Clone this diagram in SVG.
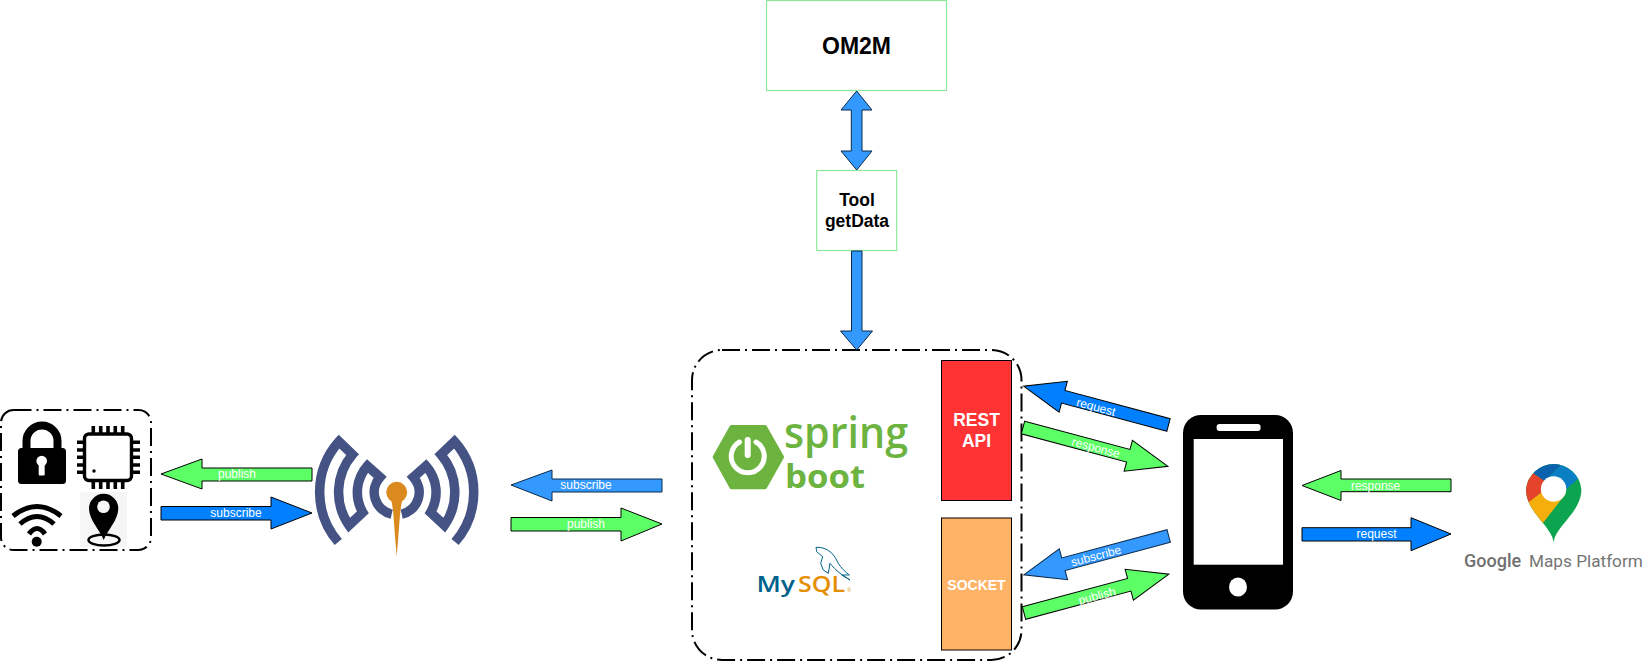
<svg xmlns="http://www.w3.org/2000/svg" width="1649" height="662" viewBox="0 0 1649 662">
<style>
text{font-family:"Liberation Sans",Arial,sans-serif;text-anchor:middle}
.g{fill:#5cff66;stroke:#000;stroke-width:1}
.b{fill:#007fff;stroke:#000;stroke-width:1}
.l{fill:#3399ff;stroke:#0a2a4a;stroke-width:1}
.lab{font-size:12px;fill:#fff;dominant-baseline:central}
.dd{fill:none;stroke:#000;stroke-width:2;stroke-dasharray:18 5 2 5}
.box{fill:#fff;stroke:#8fe89a;stroke-width:1.2}
.bt{font-weight:bold;fill:#000}
.wt{font-weight:bold;fill:#fff}
.ant{fill:none;stroke:#445383;stroke-width:9.5;stroke-miterlimit:10}
.logo{font-family:"Open Sans",sans-serif;text-anchor:start}
.gm{font-family:Roboto,sans-serif;text-anchor:start}
</style>
<defs>
<path id="arr" d="M0,-6.5H109V-16L150,0L109,16V6.5H0Z"/>
<path id="antHalf" class="ant" d="M338.3,542A76,76 0 0 1 339,441.5L352.5,454.5A58,58 0 0 0 349,525.3L362.8,512.4A39.5,39.5 0 0 1 367.4,466L380,477.2A22.5,22.5 0 0 0 391.7,514.2"/>
<clipPath id="pinClip"><path d="M1553.6,542C1551.5,526 1526,512 1526,489.5A27.8,27.8 0 0 1 1581.4,489.5C1581.4,512 1555.7,526 1553.6,542Z"/></clipPath>
</defs>
<rect width="1649" height="662" fill="#fff"/>

<g id="devices">
<rect class="dd" x="1" y="410" width="150" height="140" rx="12.5"/>
<g id="lock">
<rect x="18" y="448" width="48" height="36" rx="3.5"/>
<path d="M26.5,449V441A15.5,15.5 0 0 1 57.5,441V449" fill="none" stroke="#000" stroke-width="8"/>
<circle cx="41.7" cy="461" r="5.3" fill="#fff"/>
<rect x="38.7" y="461" width="6" height="14.5" rx="1" fill="#fff"/>
</g>
<g id="chip">
<path d="M93.3,426V489M100.7,426V489M108,426V489M115.3,426V489M122.7,426V489M77,442.3H140M77,450H140M77,457.3H140M77,465H140M77,472.3H140" stroke="#000" stroke-width="3.6" fill="none"/>
<rect x="84.5" y="434" width="47" height="46.5" rx="4.5" fill="#fff" stroke="#000" stroke-width="3.4"/>
<circle cx="94" cy="471" r="1.7"/>
</g>
<g id="wifi">
<path d="M13,516Q37,497 61,516M20,524Q37,509 54,524M29,534Q37,523 45,534" fill="none" stroke="#000" stroke-width="5"/>
<circle cx="36.7" cy="541.7" r="5"/>
</g>
<g id="location">
<rect x="80" y="492" width="47" height="55" fill="#f6f6f6"/>
<ellipse cx="104" cy="540" rx="15.5" ry="5.5" fill="none" stroke="#000" stroke-width="2.5"/>
<path d="M103.7,540C100,530 89,520 89,508.5A14.6,14.6 0 0 1 118.3,508.5C118.3,520 107.5,530 103.7,540Z"/>
<circle cx="103.5" cy="506.7" r="6.3" fill="#f6f6f6"/>
</g>
</g>

<g id="broker">
<use href="#antHalf"/>
<use href="#antHalf" transform="matrix(-1 0 0 1 793.4 0)"/>
<path d="M390.5,498C393,505 393.5,515 395.3,540L396.7,556L398.1,540C400,515 400.5,505 403,498Z" fill="#db8a20"/>
<circle cx="396.7" cy="492.3" r="10.5" fill="#db8a20"/>
</g>

<g id="om2m">
<rect class="box" x="766.5" y="0.5" width="180" height="90"/>
<text class="bt" x="856.5" y="53.5" font-size="23">OM2M</text>
</g>
<g id="tool">
<rect class="box" x="816.7" y="170.5" width="80" height="80"/>
<text class="bt" x="857" y="205.7" font-size="17.5">Tool</text>
<text class="bt" x="857" y="226.7" font-size="17.5">getData</text>
</g>

<g id="server">
<rect class="dd" x="692" y="350" width="329.5" height="310" rx="30"/>
<g id="spring-logo">
<path d="M714.7,457L731.5,427H765L782,457L765,487.3H731.5Z" fill="#6db33f" stroke="#6db33f" stroke-width="4" stroke-linejoin="round"/>
<path d="M739.5,442A16.5,16.5 0 1 0 756,442" fill="none" stroke="#fff" stroke-width="5" stroke-linecap="round"/>
<path d="M747.7,440V455" stroke="#fff" stroke-width="6" stroke-linecap="round"/>
<text class="logo" x="784" y="448" font-size="44" font-weight="600" fill="#6db33f" textLength="124" lengthAdjust="spacingAndGlyphs">spring</text>
<text class="logo" x="785" y="488" font-size="33" font-weight="700" fill="#6db33f" textLength="80" lengthAdjust="spacingAndGlyphs">boot</text>
</g>
<g id="mysql-logo">
<path d="M816,547.3C822,547 827,549 830,551.7C834,554.5 836,559 838.3,563.3C841,568 845,571.5 849.3,575L841.7,575L850,580L840,573.3C836,570 832,566 830,563.3L828.3,573.3L823.3,570L820.7,563.3L822.7,556.7L816.7,551.7Z" fill="#fff" stroke="#00618a" stroke-width="1"/>
<text class="logo" x="756.5" y="592" font-size="21" font-weight="600" fill="#00618a" textLength="38.5" lengthAdjust="spacingAndGlyphs">My</text>
<text class="logo" x="798" y="592" font-size="21" font-weight="600" fill="#e48e00" textLength="47" lengthAdjust="spacingAndGlyphs">SQL</text>
<text x="849" y="592" font-size="5" fill="#e48e00">®</text>
</g>
<g id="rest-api">
<rect x="941.5" y="360.5" width="70" height="140" fill="#ff3333" stroke="#000" stroke-width="1"/>
<text class="wt" x="976.5" y="426" font-size="17.5">REST</text>
<text class="wt" x="976.5" y="447" font-size="17.5">API</text>
</g>
<g id="socket">
<rect x="941.5" y="518" width="70" height="132" fill="#ffb366" stroke="#000" stroke-width="1"/>
<text class="wt" x="976.5" y="590" font-size="14">SOCKET</text>
</g>
</g>

<g id="phone">
<rect x="1183" y="415" width="110" height="194.5" rx="18"/>
<rect x="1193.7" y="439" width="89.3" height="125.7" fill="#fff"/>
<rect x="1216.6" y="424" width="44" height="7" rx="3" fill="#fff"/>
<ellipse cx="1238" cy="587" rx="9" ry="9.5" fill="#fff"/>
</g>

<g id="google-maps">
<g clip-path="url(#pinClip)">
<g transform="translate(1553.6,489)">
<rect x="-40" y="-40" width="80" height="100" fill="#0da44f"/>
<polygon points="-9,-8 14,-31 40,-31 40,-24 12,1" fill="#0b7fc4"/>
<polygon points="-9,-8 14,-31 14,-40 -33,-40 -33,-24" fill="#0a62ad"/>
<polygon points="-33,-24 -9,-8 -9,1 -30,18 -40,18 -40,-24" fill="#e5432b"/>
<polygon points="-30,17 -9,1 12,5 -13,37 -40,37 -40,17" fill="#f6ae0c"/>
</g>
</g>
<circle cx="1553.6" cy="489" r="12.7" fill="#fff"/>
<text class="gm" x="1464" y="567" font-size="18" font-weight="500" fill="#707070">Google</text>
<text class="gm" x="1529" y="567" font-size="17.2" fill="#757575">Maps Platform</text>
</g>

<g id="connectors">
<path class="g" d="M312,468H202V459L161,474L202,489V481H312Z"/>
<path class="b" d="M161,506.5H271V497L312,513L271,529V520H161Z"/>
<path class="l" d="M662,479H552V470L511,485L552,501V492H662Z"/>
<path class="g" d="M511,517.5H621V508L662,524L621,541V531H511Z"/>
<use class="b" href="#arr" transform="translate(1168.5,425) rotate(195)"/>
<use class="g" href="#arr" transform="translate(1023,427.5) rotate(15)"/>
<use class="l" href="#arr" transform="translate(1168.7,536) rotate(165)"/>
<use class="g" href="#arr" transform="translate(1024,613) rotate(-15)"/>
<path class="g" d="M1451,479H1341V470.5L1302,485.5L1341,500.5V491.7H1451Z"/>
<path class="b" d="M1302,527.7H1411V517.7L1451,534L1411,550.7V541H1302Z"/>
<path class="l" d="M856.7,91L872,110H862V151H872L856.7,170L841,151H851.3V110H841Z"/>
<path class="l" d="M851.5,251H862V331H872.5L856.7,350L840.5,331H851.5Z"/>
<text class="lab" x="237" y="474">publish</text>
<text class="lab" x="236" y="513">subscribe</text>
<text class="lab" x="586" y="485">subscribe</text>
<text class="lab" x="586" y="524">publish</text>
<text class="lab" transform="translate(1096,407) rotate(15)">request</text>
<text class="lab" transform="translate(1096,447.7) rotate(15)">response</text>
<text class="lab" transform="translate(1096,556) rotate(-15)">subscribe</text>
<text class="lab" transform="translate(1097,596) rotate(-15)">publish</text>
<text class="lab" x="1375.6" y="485.7">response</text>
<text class="lab" x="1376.5" y="534">request</text>
</g>
</svg>
